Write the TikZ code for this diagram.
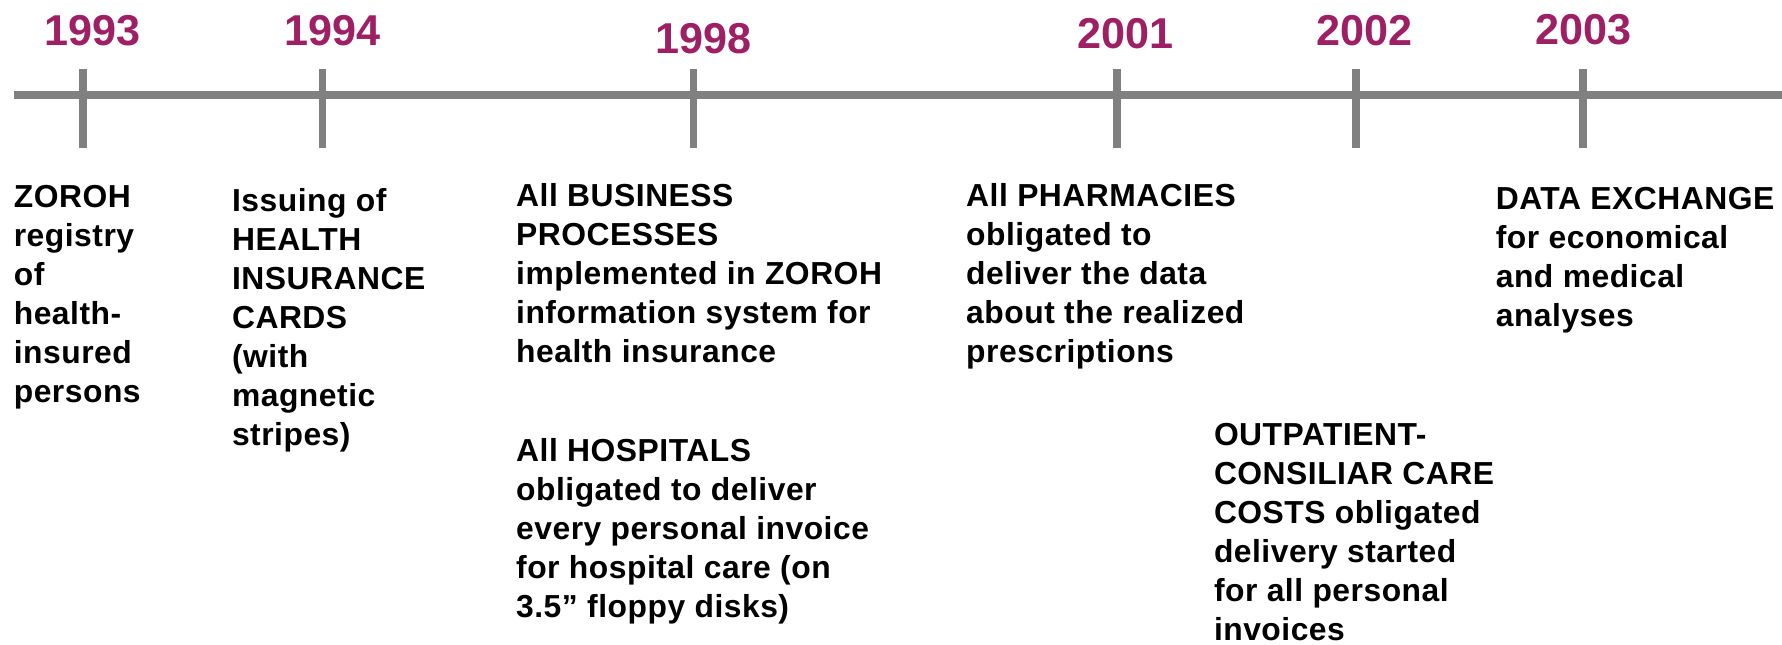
\documentclass[tikz,border=0pt]{standalone}
\usepackage{fontspec}
\setmainfont{Liberation Sans}
\newfontfamily\descfont[LetterSpace=1.6]{Liberation Sans}
\definecolor{yr}{HTML}{9E1F63}
\definecolor{ln}{HTML}{808080}
\begin{document}
\begin{tikzpicture}[x=1pt,y=-1pt,
 year/.style={text=yr,font=\fontsize{38}{44}\selectfont\bfseries,inner sep=0pt},
 desc/.style={anchor=north west,align=left,inner sep=0pt,font=\descfont\fontsize{28}{34.3}\selectfont\bfseries},
 axis/.style={draw=ln,line width=7pt},
 tickline/.style={draw=ln,line width=6.5pt}]
\useasboundingbox (0,0) rectangle (1568,567.5);
\coordinate (L0) at (12,84);
\coordinate (L1) at (1568,84);
\draw[axis] (L0) -- (L1);
\foreach \n/\x in {a/73,b/284,c/610,d/983,e/1193,f/1393}{
  \coordinate (T\n) at (\x,61);
  \coordinate (B\n) at (\x,130);
  \draw[tickline] (T\n) -- (B\n);
}
\node[year] (y1993) at (81,27) {1993};
\node[year] (y1994) at (293,27) {1994};
\node[year] (y1998) at (619,34) {1998};
\node[year] (y2001) at (990,30) {2001};
\node[year] (y2002) at (1201,27) {2002};
\node[year] (y2003) at (1393,26) {2003};

\node[desc] (d1) at (12,163) {ZOROH\\registry\\of\\health-\\insured\\persons};
\node[desc] (d2) at (204,166) {Issuing of\\HEALTH\\INSURANCE\\CARDS\\(with\\magnetic\\stripes)};
\node[desc] (d3) at (454,161) {All BUSINESS\\PROCESSES\\implemented in ZOROH\\information system for\\health insurance};
\node[desc] (d4) at (454,386) {All HOSPITALS\\obligated to deliver\\every personal invoice\\for hospital care (on\\3.5” floppy disks)};
\node[desc] (d5) at (850,161) {All PHARMACIES\\obligated to\\deliver the data\\about the realized\\prescriptions};
\node[desc] (d6) at (1068,372) {OUTPATIENT-\\CONSILIAR CARE\\COSTS obligated\\delivery started\\for all personal\\invoices};
\node[desc] (d7) at (1316,165) {DATA EXCHANGE\\for economical\\and medical\\analyses};
\end{tikzpicture}
\end{document}
